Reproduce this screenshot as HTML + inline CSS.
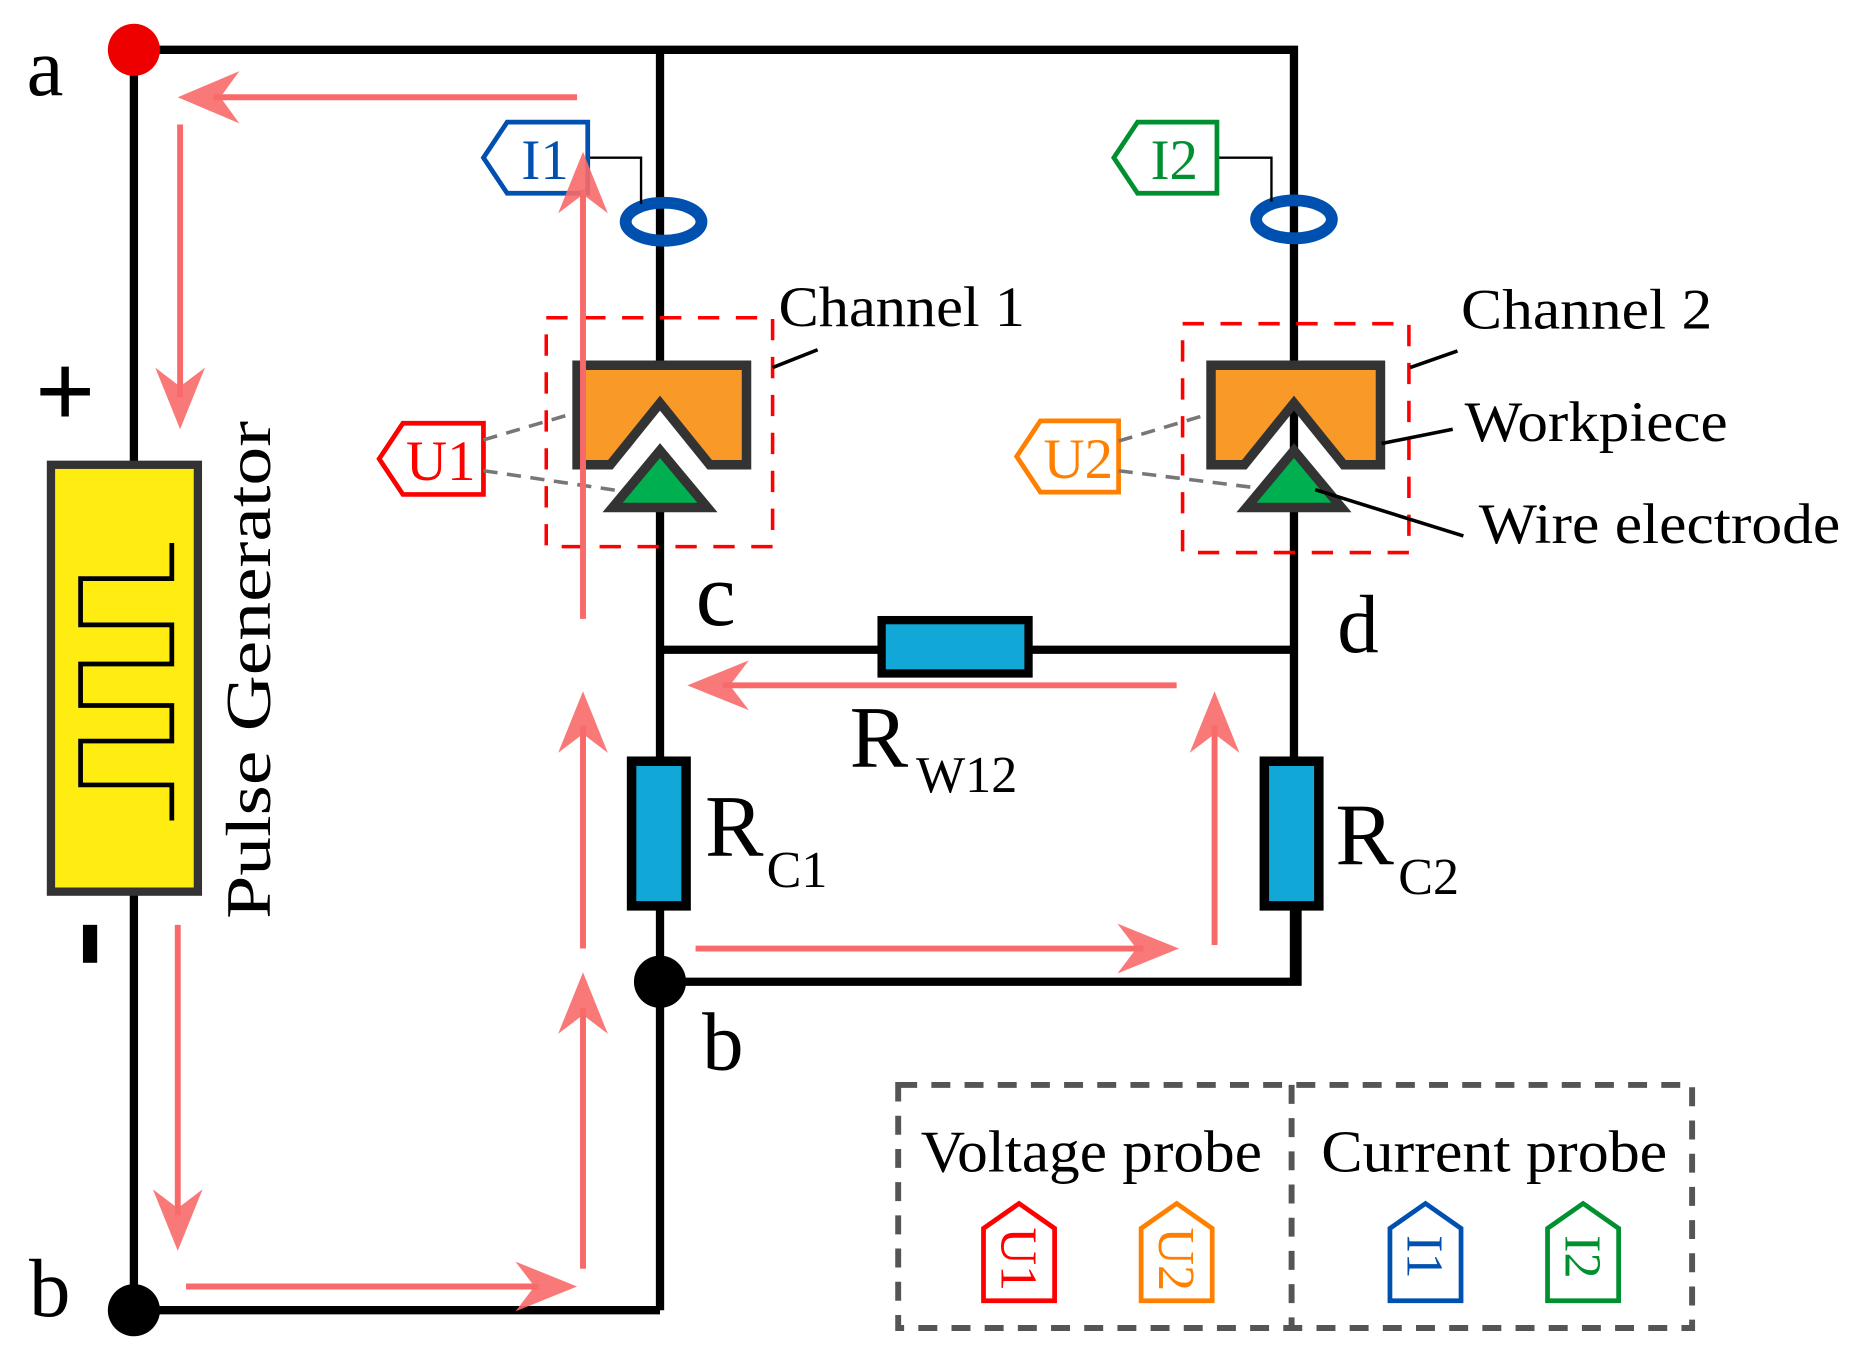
<!DOCTYPE html>
<html><head><meta charset="utf-8"><style>
html,body{margin:0;padding:0;background:#fff;}
svg{display:block;}
text{font-family:"Liberation Serif","Times New Roman",serif;}
</style></head><body>
<svg width="1858" height="1360" viewBox="0 0 1568 1147" preserveAspectRatio="none" xmlns="http://www.w3.org/2000/svg">
<rect width="1568" height="1147" fill="#fff"/>
<!-- wires -->
<g stroke="#000" stroke-width="7" fill="none">
<polyline points="113,42 1092,42 1092,828"/>
<line x1="557" y1="42" x2="557" y2="310"/>
<line x1="557" y1="428" x2="557" y2="1105"/>
<line x1="113" y1="42" x2="113" y2="392"/>
<line x1="113" y1="752" x2="113" y2="1105"/>
<line x1="113" y1="1105" x2="557" y2="1105"/>
<line x1="557" y1="548" x2="1092" y2="548"/>
<polyline points="557,828 1095,828 1095,760"/>
</g>
<!-- generator -->
<rect x="43" y="392" width="124" height="360" fill="#ffec10" stroke="#333" stroke-width="7"/>
<polyline points="145,458 145,488 68,488 68,527 145,527 145,560 68,560 68,595 145,595 145,625 68,625 68,662 145,662 145,692" fill="none" stroke="#000" stroke-width="4"/>
<text x="55" y="360" font-size="90" font-weight="bold" font-family="Liberation Sans,sans-serif" text-anchor="middle">+</text>
<rect x="70" y="780" width="12" height="32" fill="#000"/>
<text transform="translate(228,565) rotate(-90)" font-size="54" text-anchor="middle" textLength="420" lengthAdjust="spacingAndGlyphs">Pulse Generator</text>
<!-- dots & labels -->
<circle cx="113" cy="42" r="22" fill="#e00"/>
<circle cx="113" cy="1105" r="22" fill="#000"/>
<circle cx="557" cy="828" r="22" fill="#000"/>
<text x="38" y="80" font-size="70" text-anchor="middle">a</text>
<text x="42" y="1110" font-size="70" text-anchor="middle">b</text>
<text x="610" y="902" font-size="70" text-anchor="middle">b</text>
<text x="604" y="527" font-size="76" text-anchor="middle">c</text>
<text x="1146" y="550" font-size="70" text-anchor="middle">d</text>
<!-- coils -->
<ellipse cx="560" cy="187" rx="32" ry="16" fill="none" stroke="#0050b0" stroke-width="10"/>
<ellipse cx="1092" cy="185" rx="32" ry="16" fill="none" stroke="#0050b0" stroke-width="10"/>
<polyline points="496,133 541,133 541,172" fill="none" stroke="#000" stroke-width="2"/>
<polyline points="1027,133 1073,133 1073,170" fill="none" stroke="#000" stroke-width="2"/>
<!-- probe tags -->
<polygon points="408,133 428,103 496,103 496,163 428,163" fill="#fff" stroke="#0050b0" stroke-width="4"/>
<text x="460" y="151" font-size="48" fill="#0050b0" text-anchor="middle">I1</text>
<polygon points="940,133 960,103 1027,103 1027,163 960,163" fill="#fff" stroke="#009030" stroke-width="4"/>
<text x="991" y="151" font-size="48" fill="#009030" text-anchor="middle">I2</text>
<polygon points="320,387 340,357 408,357 408,417 340,417" fill="#fff" stroke="#f00" stroke-width="4"/>
<text x="372" y="405" font-size="48" fill="#f00" text-anchor="middle">U1</text>
<polygon points="858,385 878,355 944,355 944,415 878,415" fill="#fff" stroke="#ff8000" stroke-width="4"/>
<text x="910" y="403" font-size="48" fill="#ff8000" text-anchor="middle">U2</text>
<g stroke="#777" stroke-width="3" stroke-dasharray="12,8" fill="none">
<line x1="408" y1="371" x2="486" y2="348"/>
<line x1="408" y1="397" x2="530" y2="415"/>
<line x1="944" y1="372" x2="1024" y2="348"/>
<line x1="944" y1="397" x2="1065" y2="412"/>
</g>
<!-- channel boxes -->
<rect x="461" y="268" width="191" height="193" fill="none" stroke="#f00" stroke-width="3" stroke-dasharray="18,14"/>
<rect x="998" y="273" width="191" height="193" fill="none" stroke="#f00" stroke-width="3" stroke-dasharray="18,14"/>
<!-- workpieces -->
<polygon points="487,308 630,308 630,392 599,392 557,340 515,392 487,392" fill="#f99a28" stroke="#333" stroke-width="8"/>
<polygon points="517,428 557,380 597,428" fill="#00b050" stroke="#333" stroke-width="8"/>
<polygon points="1022,308 1165,308 1165,392 1134,392 1092,340 1050,392 1022,392" fill="#f99a28" stroke="#333" stroke-width="8"/>
<polygon points="1052,428 1092,380 1132,428" fill="#00b050" stroke="#333" stroke-width="8"/>
<!-- leaders -->
<g stroke="#000" stroke-width="3">
<line x1="652" y1="310" x2="690" y2="295"/>
<line x1="1190" y1="310" x2="1230" y2="296"/>
<line x1="1166" y1="374" x2="1226" y2="362"/>
<line x1="1110" y1="413" x2="1235" y2="452"/>
</g>
<text x="657" y="275" font-size="48" textLength="208" lengthAdjust="spacingAndGlyphs">Channel 1</text>
<text x="1233" y="277" font-size="48" textLength="212" lengthAdjust="spacingAndGlyphs">Channel 2</text>
<text x="1236" y="372" font-size="48" textLength="222" lengthAdjust="spacingAndGlyphs">Workpiece</text>
<text x="1248" y="458" font-size="48" textLength="305" lengthAdjust="spacingAndGlyphs">Wire electrode</text>
<!-- resistors -->
<rect x="533" y="642" width="46" height="122" fill="#11a8d8" stroke="#000" stroke-width="8"/>
<rect x="1067" y="642" width="46" height="122" fill="#11a8d8" stroke="#000" stroke-width="8"/>
<rect x="744" y="523" width="124" height="45" fill="#11a8d8" stroke="#000" stroke-width="7"/>
<text x="595" y="722" font-size="74">R</text><text x="647" y="748" font-size="44">C1</text>
<text x="1127" y="729" font-size="74">R</text><text x="1180" y="754" font-size="44">C2</text>
<text x="717" y="647" font-size="74">R</text><text x="773" y="668" font-size="44">W12</text>
<!-- red arrows -->
<g stroke="#f86a6a" stroke-width="5">
<line x1="487" y1="82" x2="180" y2="82"/>
<line x1="152" y1="105" x2="152" y2="335"/>
<line x1="150" y1="780" x2="150" y2="1025"/>
<line x1="157" y1="1085" x2="455" y2="1085"/>
<line x1="492" y1="1070" x2="492" y2="850"/>
<line x1="492" y1="800" x2="492" y2="612"/>
<line x1="492" y1="522" x2="492" y2="160"/>
<line x1="993" y1="578" x2="610" y2="578"/>
<line x1="587" y1="800" x2="965" y2="800"/>
<line x1="1025" y1="797" x2="1025" y2="612"/>
</g>
<g fill="#f86a6a" fill-opacity="0.9">
<polygon points="150,82 202,60 186,82 202,104"/>
<polygon points="152,362 131,310 152,326 173,310"/>
<polygon points="150,1055 129,1003 150,1019 171,1003"/>
<polygon points="487,1085 435,1064 451,1085 435,1106"/>
<polygon points="492,820 471,872 492,856 513,872"/>
<polygon points="492,583 471,635 492,619 513,635"/>
<polygon points="492,128 471,180 492,164 513,180"/>
<polygon points="580,578 632,557 616,578 632,599"/>
<polygon points="995,800 943,779 959,800 943,821"/>
<polygon points="1025,583 1004,635 1025,619 1046,635"/>
</g>
<!-- legend -->
<rect x="758" y="915" width="670" height="205" fill="none" stroke="#555" stroke-width="5" stroke-dasharray="16,12"/>
<line x1="1090" y1="915" x2="1090" y2="1120" stroke="#555" stroke-width="5" stroke-dasharray="16,12"/>
<text x="777" y="988" font-size="50" textLength="288" lengthAdjust="spacingAndGlyphs">Voltage probe</text>
<text x="1115" y="988" font-size="50" textLength="292" lengthAdjust="spacingAndGlyphs">Current probe</text>
<g stroke-width="4" fill="#fff">
<polygon points="830,1097 830,1036 860,1015 890,1036 890,1097" stroke="#f00"/>
<polygon points="963,1097 963,1036 993,1015 1023,1036 1023,1097" stroke="#ff8000"/>
<polygon points="1173,1097 1173,1036 1203,1015 1233,1036 1233,1097" stroke="#0050b0"/>
<polygon points="1306,1097 1306,1036 1336,1015 1366,1036 1366,1097" stroke="#009030"/>
</g>
<g font-size="44" text-anchor="middle">
<text transform="translate(845,1062) rotate(90)" fill="#f00">U1</text>
<text transform="translate(978,1062) rotate(90)" fill="#ff8000">U2</text>
<text transform="translate(1188,1060) rotate(90)" fill="#0050b0">I1</text>
<text transform="translate(1321,1060) rotate(90)" fill="#009030">I2</text>
</g>
</svg>
</body></html>
